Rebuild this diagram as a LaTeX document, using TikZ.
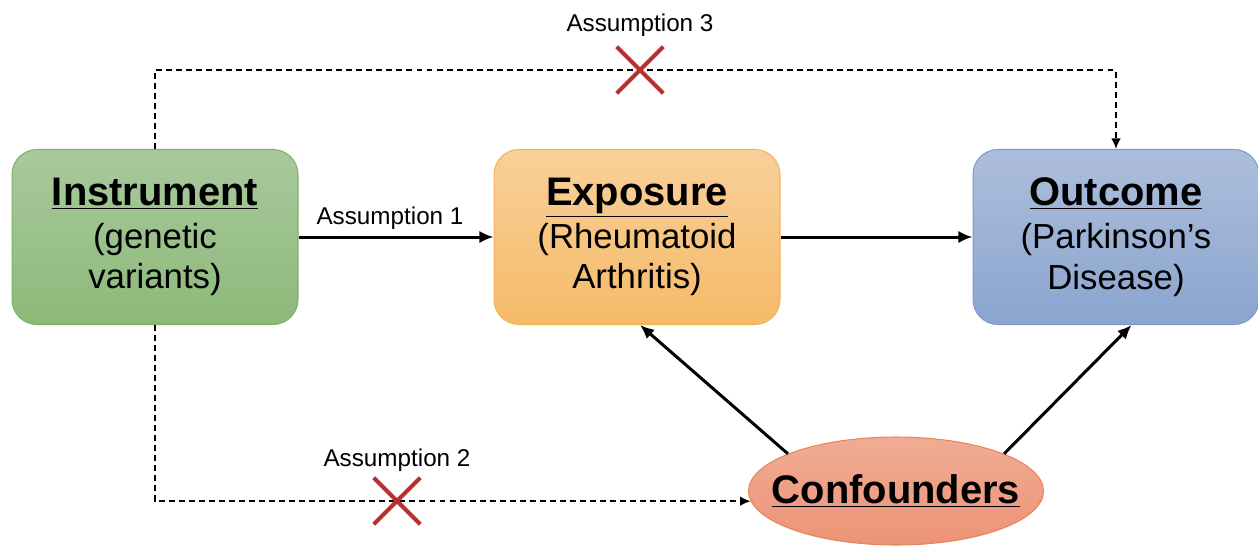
\documentclass[tikz,border=0pt]{standalone}
\usepackage{fontspec}
\setmainfont{Liberation Sans}
\usetikzlibrary{arrows.meta,shapes.geometric,shapes.misc,positioning}
\definecolor{vertH}{HTML}{A9C99C}
\definecolor{vertB}{HTML}{8CB97A}
\definecolor{vertT}{HTML}{7FAF69}
\definecolor{orangeH}{HTML}{F9D09A}
\definecolor{orangeB}{HTML}{F5BA68}
\definecolor{orangeT}{HTML}{F2B457}
\definecolor{bleuH}{HTML}{ACBEDB}
\definecolor{bleuB}{HTML}{8BA5CF}
\definecolor{bleuT}{HTML}{7C9AC9}
\definecolor{saumonH}{HTML}{F0AC94}
\definecolor{saumonB}{HTML}{EC9377}
\definecolor{saumonT}{HTML}{E8845C}
\definecolor{rouge}{HTML}{B5322F}

\begin{document}
\begin{tikzpicture}[x=0.02cm,y=-0.02cm,
  boite/.style={rectangle,rounded corners=0.5cm,minimum width=5.72cm,minimum height=3.5cm,
    align=center,line width=0.6pt,font=\fontsize{19.8}{23}\selectfont},
  titre/.style={font=\fontsize{22.7}{26}\selectfont\bfseries},
  fleche/.style={line width=1.7pt,-{Latex[length=8pt,width=7pt]}},
  tirets/.style={line width=1.1pt,dash pattern=on 3.4pt off 2.3pt,-{Latex[length=6pt,width=5.5pt]}},
  croix/.style={cross out,draw=rouge,line width=2.3pt,minimum size=0.85cm,inner sep=0pt},
  hyp/.style={font=\fontsize{13.8}{16}\selectfont}]
\useasboundingbox (0,0) rectangle (1258,552);

%boites
\node[boite,top color=vertH,bottom color=vertB,draw=vertT] (instr) at (155,237)
  {{\fontsize{22.7}{26}\selectfont\bfseries\underline{Instrument}}\\[1.5pt](genetic\\variants)};
\node[boite,top color=orangeH,bottom color=orangeB,draw=orangeT] (expo) at (637,237)
  {{\fontsize{22.7}{26}\selectfont\bfseries\underline{Exposure}}\\[1.5pt](Rheumatoid\\Arthritis)};
\node[boite,top color=bleuH,bottom color=bleuB,draw=bleuT] (outc) at (1116,237)
  {{\fontsize{22.7}{26}\selectfont\bfseries\underline{Outcome}}\\[1.5pt](Parkinson’s\\Disease)};
\node[ellipse,minimum width=5.9cm,minimum height=2.16cm,inner sep=0pt,
  top color=saumonH,bottom color=saumonB,draw=saumonT,line width=0.6pt] (conf) at (896,491) {};
\node[titre] (conftxt) at (conf) {\underline{Confounders}};
%fin

%fleches pleines
\draw[fleche] (instr) -- node[midway,above,hyp,xshift=-0.12cm] (h1) {Assumption 1} (expo);
\draw[fleche] (expo) -- (outc);
\draw[fleche] (conf.161) -- (expo.-88);
\draw[fleche] (conf.19) -- (outc.-80);
%fin

%pointilles
\coordinate (haut) at (640,70);
\draw[tirets] (instr.north) |- (haut) -| (outc.north);
\draw[tirets] (instr.south) |- (conf.184);
%fin

%croix
\node[croix] (x3) at (640,70) {};
\node[croix] (x2) at (397,501) {};
\node[hyp,above=2.5pt of x3] (h3) {Assumption 3};
\node[hyp,above=0pt of x2] (h2) {Assumption 2};
%fin
\end{tikzpicture}
\end{document}
